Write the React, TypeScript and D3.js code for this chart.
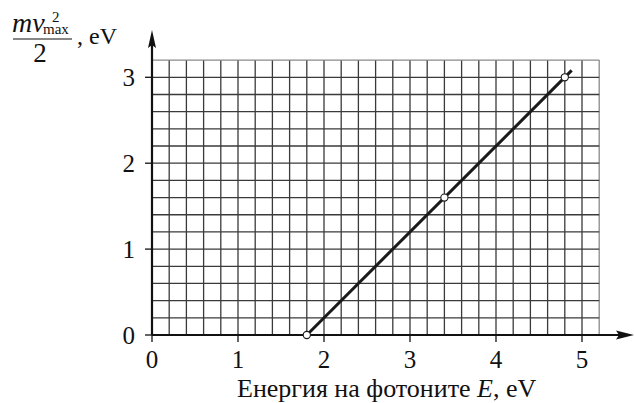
import React from "react";
import * as d3 from "d3";

const xTickValues = [0, 1, 2, 3, 4, 5];
const yTickValues = [0, 1, 2, 3];
const photonEnergy = [1.8, 3.4, 4.8];
const kineticEnergy = [0, 1.6, 3.0];
const fitLineE = [1.8, 4.88];
const fitLineK = [0, 3.08];
const gridMaxX = 5.2;
const gridMaxY = 3.2;
const gridStep = 0.2;

const W = 634;
const H = 403;
const FONT = "'Liberation Serif', 'DejaVu Serif', serif";

export default function App() {
  const x = d3.scaleLinear().domain([0, 1]).range([152, 238]);
  const y = d3.scaleLinear().domain([0, 1]).range([335, 249.1]);

  const nx = Math.round(gridMaxX / gridStep);
  const ny = Math.round(gridMaxY / gridStep);
  const gx = d3.range(1, nx + 1).map((i) => +(i * gridStep).toFixed(2));
  const gy = d3.range(1, ny + 1).map((i) => +(i * gridStep).toFixed(2));

  const line = d3
    .line<number>()
    .x((d, i) => x(fitLineE[i]))
    .y((d, i) => y(fitLineK[i]));

  const x0 = x(0);
  const y0 = y(0);
  const xEnd = x(gridMaxX);
  const yTop = y(gridMaxY);

  return (
    <svg
      width={W}
      height={H}
      style={{ position: "absolute", left: 0, top: 0, background: "#fff" }}
      fontFamily={FONT}
    >
      <rect width={W} height={H} fill="#fff" />
      {/* grid */}
      {gx.map((v) => (
        <line
          key={"gx" + v}
          x1={x(v)}
          x2={x(v)}
          y1={y0}
          y2={yTop}
          stroke={v >= gridMaxX ? "#8a8a8a" : "#3a3a3a"}
          strokeWidth={1.3}
        />
      ))}
      {gy.map((v) => (
        <line
          key={"gy" + v}
          x1={x0}
          x2={xEnd}
          y1={y(v)}
          y2={y(v)}
          stroke={v >= gridMaxY ? "#8a8a8a" : "#3a3a3a"}
          strokeWidth={1.3}
        />
      ))}
      {/* axes */}
      <line x1={x0} x2={621} y1={y0} y2={y0} stroke="#111" strokeWidth={2.2} />
      <path d={`M634,${y0} L616,${y0 - 4.5} L619,${y0} L616,${y0 + 4.5} Z`} fill="#111" />
      <line x1={x0} x2={x0} y1={y0} y2={44} stroke="#111" strokeWidth={2.2} />
      <path d={`M${x0},30 L${x0 - 4},48 L${x0},45 L${x0 + 4},48 Z`} fill="#111" />
      {/* ticks */}
      {xTickValues.map((v) => (
        <g key={"xt" + v}>
          <line x1={x(v)} x2={x(v)} y1={y0} y2={y0 + 7} stroke="#111" strokeWidth={1.3} />
          <text x={x(v)} y={368} textAnchor="middle" fontSize={25} fill="#111">
            {v}
          </text>
        </g>
      ))}
      {yTickValues.map((v) => (
        <g key={"yt" + v}>
          <line x1={x0 - 7} x2={x0} y1={y(v)} y2={y(v)} stroke="#111" strokeWidth={1.3} />
          <text x={135} y={y(v) + 8.5} textAnchor="end" fontSize={25} fill="#111">
            {v}
          </text>
        </g>
      ))}
      {/* fit line */}
      <path d={line(fitLineE) || ""} fill="none" stroke="#1a1a1a" strokeWidth={3} />
      {photonEnergy.map((e, i) => (
        <circle
          key={"p" + i}
          cx={x(e)}
          cy={y(kineticEnergy[i])}
          r={3.6}
          fill="#fff"
          stroke="#1a1a1a"
          strokeWidth={1.1}
        />
      ))}
      {/* x-axis label */}
      <text x={237} y={397} fontSize={26} fill="#111">
        Енергия на фотоните <tspan fontStyle="italic">E</tspan>, eV
      </text>
      {/* y-axis label */}
      <text x={12} y={32} fontSize={28} fontStyle="italic" fill="#111">
        mv
      </text>
      <text x={52} y={22} fontSize={15} fill="#111">
        2
      </text>
      <text x={43} y={34} fontSize={15} fill="#111">
        max
      </text>
      <line x1={13} x2={72} y1={39} y2={39} stroke="#111" strokeWidth={1.2} />
      <text x={40} y={62} fontSize={27} textAnchor="middle" fill="#111">
        2
      </text>
      <text x={77} y={44} fontSize={24} fill="#111">
        , eV
      </text>
    </svg>
  );
}
